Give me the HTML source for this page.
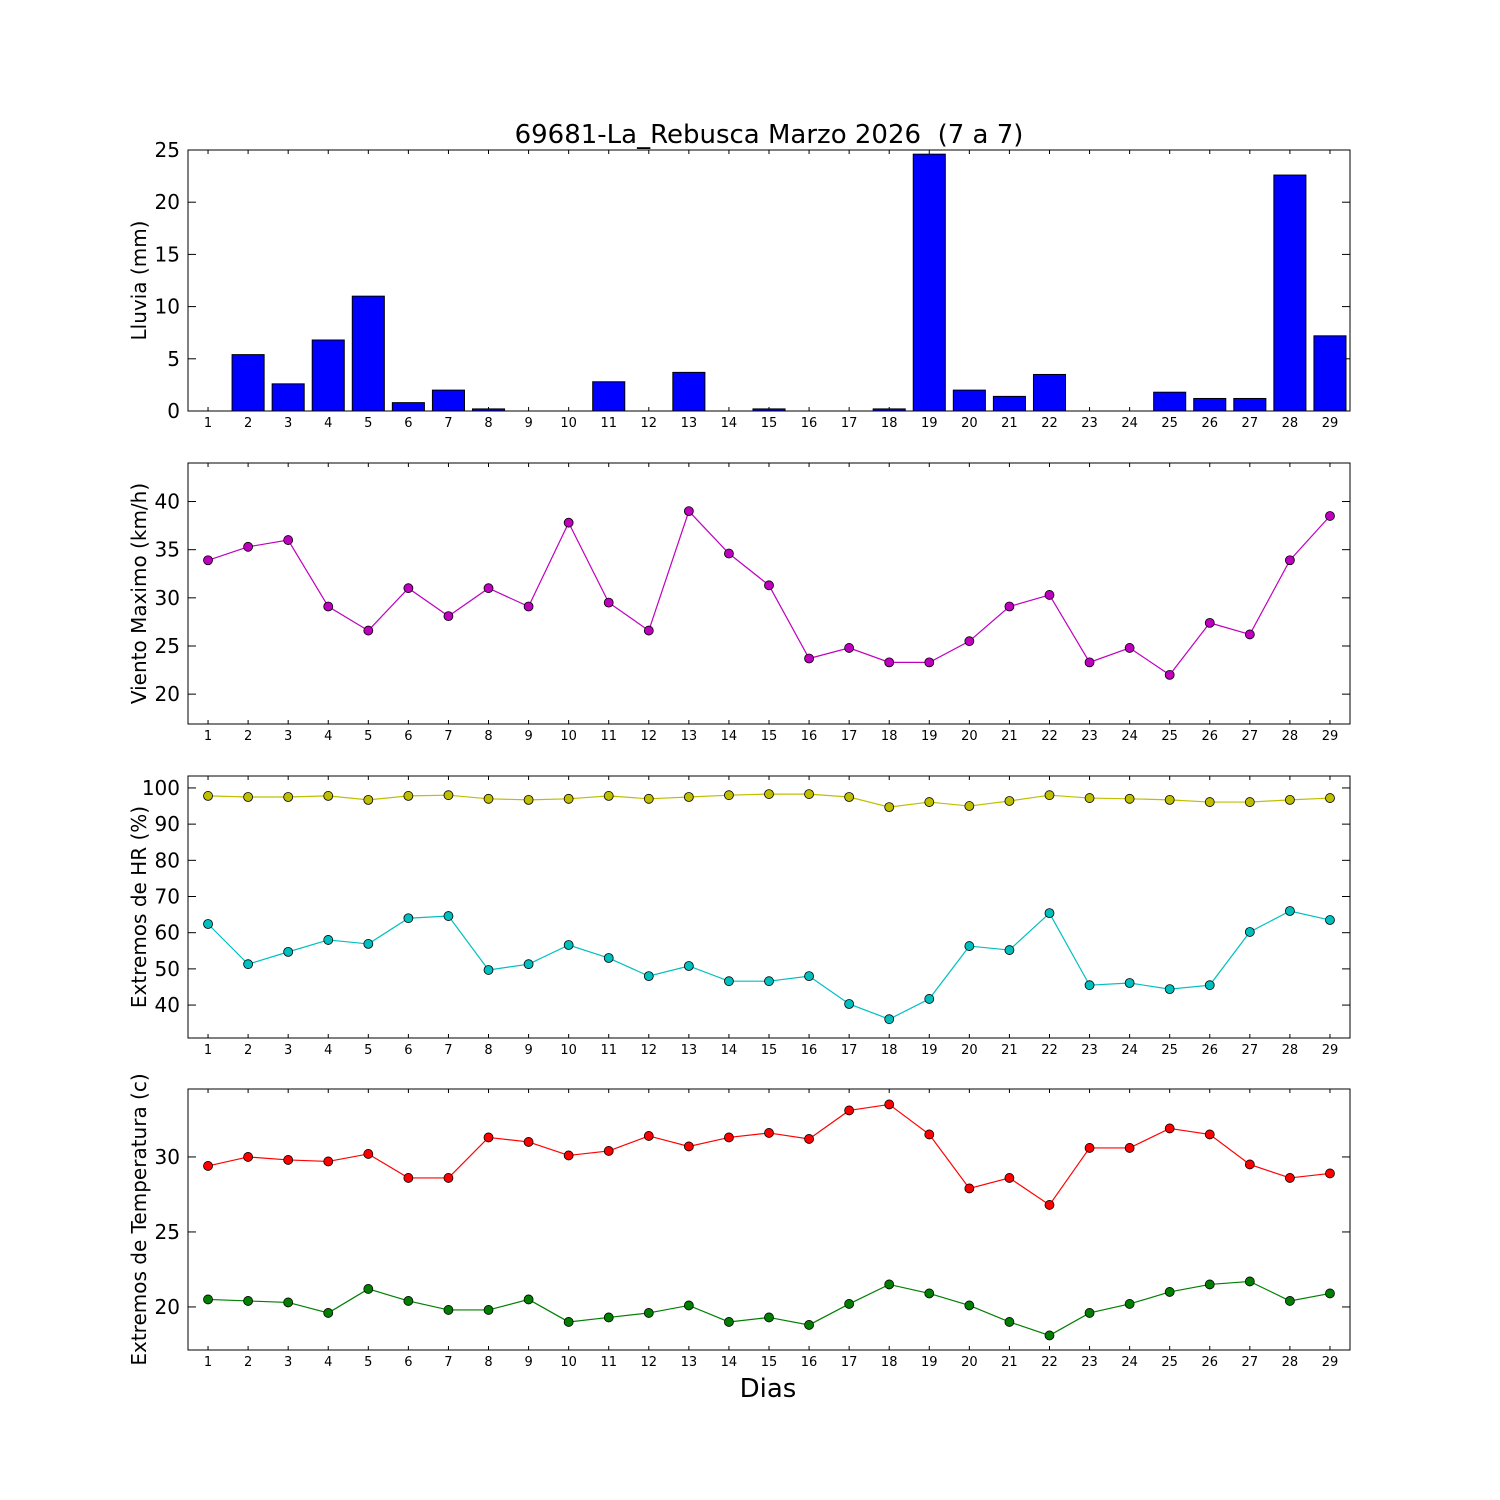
<!DOCTYPE html>
<html><head><meta charset="utf-8"><style>
body{margin:0;background:#fff}
svg{display:block}
text{font-family:"DejaVu Sans","Liberation Sans",sans-serif;fill:#000}
</style></head><body>
<svg id="chart" width="1500" height="1500" viewBox="0 0 1500 1500">
<rect width="1500" height="1500" fill="#fff"/>
<text x="769" y="143" font-size="26" text-anchor="middle" style="white-space:pre" xml:space="preserve">69681-La_Rebusca Marzo 2026  (7 a 7)</text>
<text x="768" y="1397" font-size="26" text-anchor="middle">Dias</text>
</svg>
<script>
const days = [1,2,3,4,5,6,7,8,9,10,11,12,13,14,15,16,17,18,19,20,21,22,23,24,25,26,27,28,29];
const rain = [0,5.4,2.6,6.8,11,0.8,2,0.2,0,0,2.8,0,3.7,0,0.2,0,0,0.2,24.6,2,1.4,3.5,0,0,1.8,1.2,1.2,22.6,7.2];
const wind = [33.9,35.3,36,29.1,26.6,31,28.1,31,29.1,37.8,29.5,26.6,39,34.6,31.3,23.7,24.8,23.3,23.3,25.5,29.1,30.3,23.3,24.8,22,27.4,26.2,33.9,38.5];
const hrMax = [97.8,97.5,97.5,97.8,96.7,97.8,98,97,96.7,97,97.8,97,97.5,98,98.3,98.3,97.5,94.7,96.1,95,96.4,98,97.2,97,96.7,96.1,96.1,96.7,97.2];
const hrMin = [62.4,51.3,54.7,58,56.9,64,64.6,49.7,51.3,56.6,53,48,50.8,46.6,46.6,48,40.3,36.1,41.7,56.3,55.2,65.4,45.5,46.1,44.4,45.5,60.2,66,63.5];
const tMax = [29.4,30,29.8,29.7,30.2,28.6,28.6,31.3,31,30.1,30.4,31.4,30.7,31.3,31.6,31.2,33.1,33.5,31.5,27.9,28.6,26.8,30.6,30.6,31.9,31.5,29.5,28.6,28.9];
const tMin = [20.5,20.4,20.3,19.6,21.2,20.4,19.8,19.8,20.5,19,19.3,19.6,20.1,19,19.3,18.8,20.2,21.5,20.9,20.1,19,18.1,19.6,20.2,21,21.5,21.7,20.4,20.9];
const rainTicks = [0,5,10,15,20,25];
const windTicks = [20,25,30,35,40];
const hrTicks = [40,50,60,70,80,90,100];
const tTicks = [20,25,30];

const NS = "http://www.w3.org/2000/svg";
const svg = document.getElementById('chart');
const L = 188, R = 1350;
function xS(d){ return L + (d - 0.5) / 29 * (R - L); }
function mk(tag, attrs, parent){ const e = document.createElementNS(NS, tag); for (const k in attrs) e.setAttribute(k, attrs[k]); (parent||svg).appendChild(e); return e; }

function panel(name, top, bot, ymin, ymax, ticks, ylabel){
  const g = mk('g', {});
  
  
  const yS = v => bot - (v - ymin) / (ymax - ymin) * (bot - top);
  ticks.forEach(t => {
    const y = yS(t);
    mk('line', {x1:L, x2:L+8, y1:y, y2:y, stroke:'#000'}, g);
    mk('line', {x1:R, x2:R-8, y1:y, y2:y, stroke:'#000'}, g);
    const tx = mk('text', {x:L-8, y:y+7, 'font-size':20, 'text-anchor':'end'}, g);
    tx.textContent = t;
    
    
  });
  days.forEach(d => {
    const x = xS(d);
    mk('line', {x1:x, x2:x, y1:bot, y2:bot-4, stroke:'#000'}, g);
    mk('line', {x1:x, x2:x, y1:top, y2:top+4, stroke:'#000'}, g);
    const tx = mk('text', {x:x, y:bot+16, 'font-size':13, 'text-anchor':'middle'}, g);
    tx.textContent = d;
    
    
  });
  const cy = (top + bot) / 2;
  const yl = mk('text', {x:0, y:0, 'font-size':20, 'text-anchor':'middle', transform:`translate(146 ${cy}) rotate(-90)`}, g);
  yl.textContent = ylabel;
  
  
  return {g, yS, top, bot};
}
function frame(p){ mk('rect', {x:L, y:p.top, width:R-L, height:p.bot-p.top, fill:'none', stroke:'#000', 'stroke-width':1}, p.g); }
function series(p, vals, color, name){
  const pts = days.map((d,i) => xS(d) + ',' + p.yS(vals[i])).join(' ');
  const pl = mk('polyline', {points:pts, fill:'none', stroke:color, 'stroke-width':1.2}, p.g);
  
  
  days.forEach((d,i) => {
    const c = mk('circle', {cx:xS(d), cy:p.yS(vals[i]), r:4.5, fill:color, stroke:'#000', 'stroke-width':0.8}, p.g);
    
    
  });
}

const p1 = panel('rain', 150, 411, 0, 25, rainTicks, 'Lluvia (mm)');
const bw = 0.8 * (R - L) / 29;
days.forEach((d,i) => {
  const y = p1.yS(rain[i]);
  const b = mk('rect', {x:xS(d)-bw/2, y:y, width:bw, height:p1.bot-y, fill:'#0000ff', stroke:'#000', 'stroke-width':1}, p1.g);
  
  
});
frame(p1);

const p2 = panel('wind', 463, 724, 16.9, 44, windTicks, 'Viento Maximo (km/h)');
series(p2, wind, '#bf00bf', 'wind');
frame(p2);

const p3 = panel('humidity', 776, 1038, 30.9, 103.3, hrTicks, 'Extremos de HR (%)');
series(p3, hrMax, '#bfbf00', 'hr-max');
series(p3, hrMin, '#00bfbf', 'hr-min');
frame(p3);

const p4 = panel('temperature', 1089, 1350, 17.13, 34.53, tTicks, 'Extremos de Temperatura (c)');
series(p4, tMax, '#ff0000', 'temp-max');
series(p4, tMin, '#007f00', 'temp-min');
frame(p4);
</script>
</body></html>
